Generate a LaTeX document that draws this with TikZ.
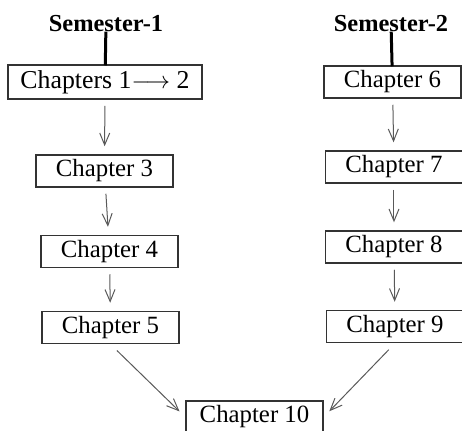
\documentclass[tikz,border=0pt]{standalone}
\usepackage{fontspec}
\setmainfont{Liberation Serif}
\usetikzlibrary{arrows.meta}

\begin{document}
\begin{tikzpicture}[
    x=0.5pt, y=-0.5pt,
    chap/.style={draw=black!80, line width=0.75pt, inner sep=0pt,
        minimum width=68.5pt, minimum height=16pt, font=\fontsize{12.4}{14}\selectfont},
    sem/.style={inner sep=0pt, anchor=base, font=\fontsize{12.2}{14}\selectfont\bfseries},
    stem/.style={line width=1.5pt, shorten >=-0.5pt},
    arr/.style={draw=black!65, line width=0.5pt, shorten <=3pt, shorten >=4pt,
        -{Straight Barb[length=6pt, width=5pt]}}
]
\useasboundingbox (0,0) rectangle (462,430);

\node[sem] (sem1) at (106,31) {Semester-1};
\node[sem] (sem2) at (391,31) {Semester-2};

\node[chap, minimum width=97pt, minimum height=17pt, font=\fontsize{12.9}{14}\selectfont]
    (ch12) at (105,82) {Chapters 1$\longrightarrow$ 2};
\node[chap] (ch3)  at (104.5,171) {Chapter 3};
\node[chap] (ch4)  at (109.5,251.5) {Chapter 4};
\node[chap] (ch5)  at (110.5,327.5) {Chapter 5};

\node[chap] (ch6)  at (392.5,82) {Chapter 6};
\node[chap] (ch7)  at (394,167) {Chapter 7};
\node[chap] (ch8)  at (394,247) {Chapter 8};
\node[chap] (ch9)  at (395,326.5) {Chapter 9};

\node[chap] (ch10) at (254.5,417) {Chapter 10};

\draw[stem] (sem1) -- (ch12);
\draw[stem] (sem2) -- (ch6);

\draw[arr] (ch12) -- (ch3);
\draw[arr] (ch3) -- (ch4);
\draw[arr] (ch4) -- (ch5);
\draw[arr] (ch6) -- (ch7);
\draw[arr] (ch7) -- (ch8);
\draw[arr] (ch8) -- (ch9);

\draw[arr, shorten <=4.5pt] (ch5.south) -- (ch10.west);
\draw[arr, shorten <=4.5pt] (ch9.south) -- (ch10.east);

\end{tikzpicture}
\end{document}
